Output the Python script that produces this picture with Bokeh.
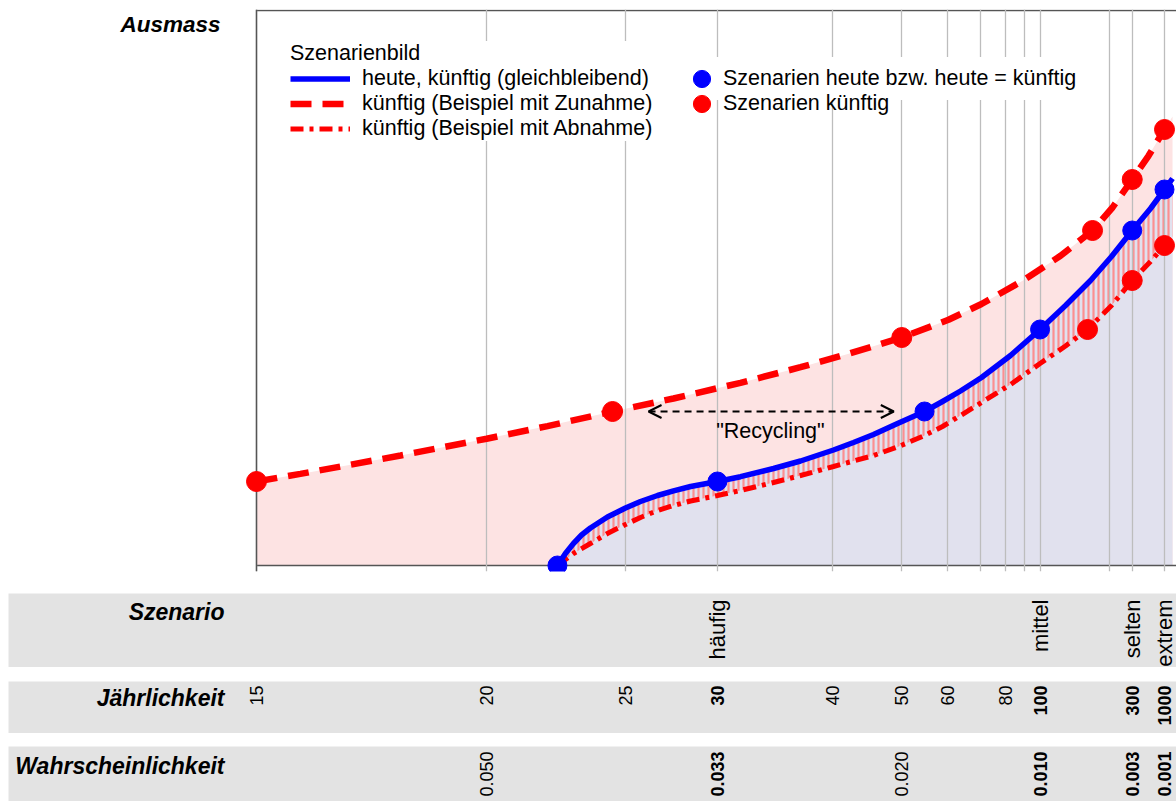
import math
from bokeh.plotting import figure
from bokeh.models import (Range1d, FixedTicker, Grid, Legend, LegendItem, Arrow,
                          OpenHead, Span, ColumnDataSource)
from bokeh.layouts import column
from bokeh.embed import file_html
from bokeh.resources import INLINE
from bokeh.core.properties import value

FONT = "Liberation Sans"
BLUE = "#0000ff"
RED = "#ff0000"
GRAY = "#e3e3e3"

# ---------------- data (x = Jährlichkeit T, plotted at probability 1/T) ----------------
tick_T = [15, 20, 25, 30, 40, 50, 60, 70, 80, 90, 100, 200, 300, 1000]

# heute, künftig (gleichbleibend) - blue solid curve
blue_T = [22.27, 22.56, 22.86, 23.17, 23.52, 24.22, 25.01, 25.71, 26.55, 27.39,
          28.35, 30, 31.58, 34.16, 36.60, 40.10, 42.57, 45.36, 49.24, 54.48,
          58.64, 63.48, 70.26, 82.40, 100, 122.6, 157.5, 207, 300, 497.4, 1000, 2384]
blue_y = [0, 12, 22, 30.5, 37.5, 48.5, 57.5, 64, 70, 74.6,
          79, 84, 88.8, 97, 104.5, 115.5, 123, 131, 142, 154,
          164, 174.5, 188, 210, 236, 260, 285, 309, 335, 357, 376, 387]

# künftig (Beispiel mit Zunahme) - red dashed curve
up_T = [15, 15.75, 17.78, 19.99, 21.92, 24.44, 27.39, 31.58, 36.60, 42.18,
        50, 60.17, 70.26, 89.3, 117.4, 161.2, 210.1, 300, 464, 1000, 2384]
up_y = [84, 91.6, 110, 126.8, 139.4, 154, 167, 182.7, 198.3, 212.3,
        228, 245.7, 261.5, 285.2, 309.7, 335, 358, 386, 409.7, 436, 449]

# künftig (Beispiel mit Abnahme) - red dash-dot curve
down_T = [22.27, 22.56, 22.86, 23.52, 24.22, 25.01, 25.71, 26.55, 27.39, 28.35,
          30, 31.58, 34.16, 36.60, 40.10, 42.57, 45.36, 49.24, 54.48, 58.64,
          63.48, 70.26, 82.40, 100, 122.6, 152.3, 207, 300, 497.4, 1000, 2384]
down_y = [0, 6, 12, 22, 32, 41, 48, 55, 60, 64.5,
          70, 75, 83, 90, 99, 104.5, 110, 118.5, 130, 139,
          150, 163, 181, 202, 219.5, 236, 260, 285, 304, 320, 329]

# scenario points
blue_pts_T = [22.27, 30, 54.48, 100, 300, 1000]
blue_pts_y = [0, 84, 154, 236, 335, 376]
up_pts_T = [15, 24.44, 50, 161.2, 300, 1000]
up_pts_y = [84, 154, 228, 335, 386, 436]
down_pts_T = [152.3, 300, 1000]
down_pts_y = [236, 285, 320]

# "Recycling" arrow (same Ausmass, different Jährlichkeit)
recyc_T = [26.1, 48.6]
recyc_y = 154
recyc_label_T = 33.9
recyc_label_y = 135

# bottom bands
scen_T = [30, 100, 300, 1000]
scen_labels = ["häufig", "mittel", "selten", "extrem"]
jl_T = [15, 20, 25, 30, 40, 50, 60, 80, 100, 300, 1000]
jl_bold = [30, 100, 300, 1000]
ws_T = [20, 30, 50, 100, 300, 1000]
ws_bold = [30, 100, 300, 1000]


def prob(ts):
    return [1.0 / t for t in ts]


# ---------------- geometry ----------------
W = 1176
PX = (1 / 15 - 1 / 1000) / 908.0          # probability per pixel
X_END = 1 / 1000 - 12 * PX                 # right edge of the page
xr = Range1d(start=1 / 15 + 248 * PX, end=X_END)   # all frames run from x=8 to x=1176

p = figure(width=W, height=580, x_range=xr, y_range=Range1d(-6, 556),
           output_backend="svg", toolbar_location=None, title=None,
           x_axis_location=None, y_axis_location=None,
           min_border_left=8, min_border_right=0, min_border_top=9, min_border_bottom=9,
           outline_line_color=None, background_fill_color="white",
           border_fill_color="white")
p.xgrid.visible = False
p.ygrid.visible = False

blue_x, up_x, down_x = prob(blue_T), prob(up_T), prob(down_T)

# fills (lowest level)
p.varea(x=up_x, y1=0, y2=up_y, fill_color="#fde3e3", level="image")
p.varea(x=blue_x, y1=0, y2=blue_y, fill_color="#e1e1ee", level="image")
p.patch(x=blue_x + down_x[::-1], y=blue_y + down_y[::-1], fill_alpha=0,
        line_color=None, hatch_pattern="|", hatch_color="#ff8080",
        hatch_alpha=0.85, hatch_weight=2.2, hatch_scale=5, level="image")

grid = Grid(dimension=0, ticker=FixedTicker(ticks=prob(tick_T)),
            grid_line_color="#bdbdbd", grid_line_width=1.3)
p.add_layout(grid)

p.add_layout(Span(location=1 / 15, dimension="height", line_color="#555555",
                  line_width=1.5, level="underlay"))
p.segment(x0=[1 / 15, 1 / 15], x1=[X_END, X_END], y0=[0, 555], y1=[0, 555],
          line_color="#555555", line_width=1.5, level="underlay")

# curves
l_down = p.line(down_x, down_y, line_color=RED, line_width=5, line_dash="13 6 4 6")
l_up = p.line(up_x, up_y, line_color=RED, line_width=6.5, line_dash="21 11")
l_blue = p.line(blue_x, blue_y, line_color=BLUE, line_width=5.5, line_join="round")

s_up = p.scatter(prob(up_pts_T), up_pts_y, size=20, color=RED)
p.scatter(prob(down_pts_T), down_pts_y, size=20, color=RED)
s_blue = p.scatter(prob(blue_pts_T), blue_pts_y, size=19, color=BLUE)

# Recycling arrow
p.add_layout(Arrow(start=OpenHead(size=13, line_width=2, line_color="black"),
                   end=OpenHead(size=13, line_width=2, line_color="black"),
                   x_start=1 / recyc_T[0], y_start=recyc_y,
                   x_end=1 / recyc_T[1], y_end=recyc_y,
                   line_color="black", line_width=2, line_dash="7 5"))
p.text(x=[1 / recyc_label_T], y=[recyc_label_y], text=['"Recycling"'],
       text_align="center", text_baseline="middle", text_font=value(FONT),
       text_font_size="21.5px", text_color="black")

# Ausmass label
p.text(x=[1 / 15], y=[541], text=["Ausmass"], x_offset=-36, text_align="right",
       text_baseline="middle", text_font=value(FONT), text_font_size="22.5px",
       text_font_style="bold italic", text_color="black")

common = dict(label_text_font=FONT, label_text_font_size="21.5px",
              label_text_line_height=1.1,
              label_text_color="black", margin=0,
              border_line_color=None)
leg1 = Legend(items=[LegendItem(label="heute, künftig (gleichbleibend)", renderers=[l_blue]),
                     LegendItem(label="künftig (Beispiel mit Zunahme)", renderers=[l_up]),
                     LegendItem(label="künftig (Beispiel mit Abnahme)", renderers=[l_down])],
              title="Szenarienbild", title_text_font=FONT, title_text_font_size="21.5px",
              title_text_font_style="normal", title_text_color="black", title_standoff=0,
              glyph_width=60, glyph_height=25, label_height=25, spacing=0,
              label_standoff=12, location=(282, 430), padding=10,
              background_fill_color="white", background_fill_alpha=1.0, **common)
leg2a = Legend(items=[LegendItem(label="Szenarien heute bzw. heute = künftig", renderers=[s_blue])],
               glyph_width=43, glyph_height=43, label_height=25, spacing=0,
               label_standoff=-4, location=(672, 471), padding=14,
               background_fill_color="white", background_fill_alpha=1.0, **common)
leg2b = Legend(items=[LegendItem(label="Szenarien künftig", renderers=[s_up])],
               glyph_width=43, glyph_height=43, label_height=25, spacing=0,
               label_standoff=-4, location=(672, 446), padding=0,
               background_fill_alpha=0.0, **common)
p.add_layout(leg1)
p.add_layout(leg2a)
p.add_layout(leg2b)


# ---------------- bottom bands ----------------
def band(h, gap, label, label_dy):
    b = figure(width=W, height=h + gap, x_range=xr, y_range=Range1d(0, h),
               output_backend="svg", toolbar_location=None, title=None,
               x_axis_location=None, y_axis_location=None,
               min_border_left=8, min_border_right=0, min_border_top=gap,
               min_border_bottom=0, outline_line_color=None,
               background_fill_color=GRAY, border_fill_color="white")
    b.xgrid.visible = False
    b.ygrid.visible = False
    b.text(x=[1 / 15], y=[h - label_dy], text=[label], x_offset=-32,
           text_align="right", text_baseline="middle", text_font=value(FONT),
           text_font_size="23px", text_font_style="bold italic", text_color="black")
    return b


H1, H2, H3 = 74, 52, 55
b1 = band(H1, 13, "Szenario", 18)
b1.text(x=prob(scen_T), y=[H1 - 6] * len(scen_T), text=scen_labels, angle=math.pi / 2,
        text_align="right", text_baseline="middle", text_font=value(FONT),
        text_font_size="22px", text_color="black")

b2 = band(H2, 14, "Jährlichkeit", 16)
src2 = ColumnDataSource(dict(x=prob(jl_T), y=[H2 - 4] * len(jl_T),
                             t=[str(t) for t in jl_T],
                             st=["bold" if t in jl_bold else "normal" for t in jl_T]))
b2.text(x="x", y="y", text="t", source=src2, angle=math.pi / 2, text_align="right",
        text_baseline="middle", text_font=value(FONT), text_font_size="18px",
        text_font_style="st", text_color="black")

b3 = band(H3, 13, "Wahrscheinlichkeit", 19)
src3 = ColumnDataSource(dict(x=prob(ws_T), y=[H3 - 5] * len(ws_T),
                             t=["%.3f" % (1.0 / t) for t in ws_T],
                             st=["bold" if t in ws_bold else "normal" for t in ws_T]))
b3.text(x="x", y="y", text="t", source=src3, angle=math.pi / 2, text_align="right",
        text_baseline="middle", text_font=value(FONT), text_font_size="18px",
        text_font_style="st", text_color="black")

layout = column(p, b1, b2, b3, spacing=0)
open("out.html", "w").write(file_html(layout, INLINE))
